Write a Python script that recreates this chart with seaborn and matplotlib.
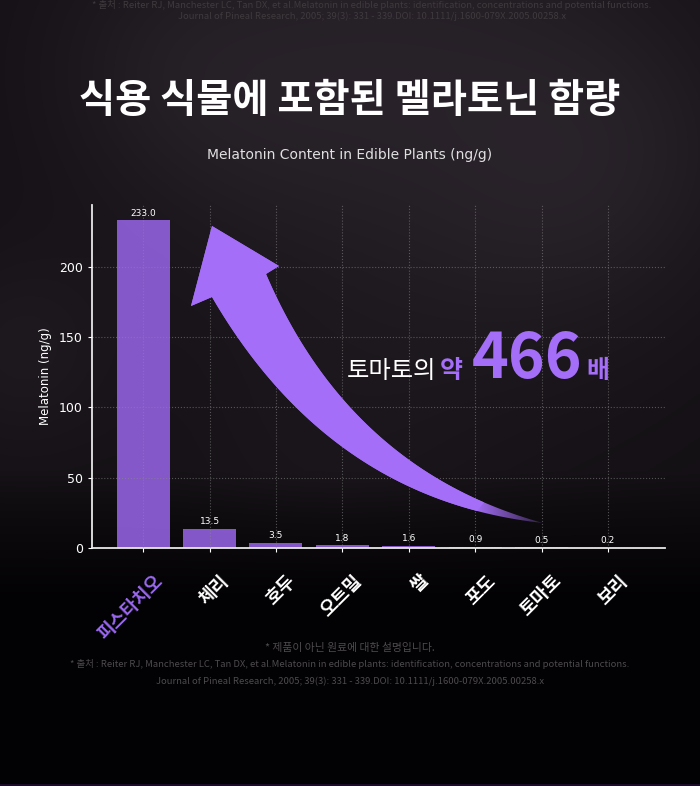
import numpy as np
import pandas as pd
import matplotlib
matplotlib.use("Agg")
import matplotlib.pyplot as plt
import matplotlib.transforms as mtransforms
import matplotlib.colors as mcolors
import seaborn as sns
from matplotlib.patches import Polygon

# data
plants = ["피스타치오", "체리", "호두", "오트밀", "쌀", "포도", "토마토", "보리"]
melatonin = [233.0, 13.5, 3.5, 1.8, 1.6, 0.9, 0.5, 0.2]
y_ticks = [0, 50, 100, 150, 200]

title = "식용 식물에 포함된 멜라토닌 함량"
subtitle = "Melatonin Content in Edible Plants (ng/g)"
note = "* 제품이 아닌 원료에 대한 설명입니다."
source_1 = ("* 출처 : Reiter RJ, Manchester LC, Tan DX, et al.Melatonin in edible plants: "
            "identification, concentrations and potential functions.")
source_2 = "Journal of Pineal Research, 2005; 39(3): 331 - 339.DOI: 10.1111/j.1600-079X.2005.00258.x"

W, H = 700, 786
BAR = "#8f5fda"
ARROW = "#a46ef8"
KR = ["Noto Sans CJK KR", "DejaVu Sans"]

sns.set_theme(style="dark")
plt.rcParams["font.family"] = ["DejaVu Sans", "Noto Sans CJK KR"]


def fx(x):
    return x / W


def fy(y):
    return 1 - y / H


def to_fig(pts):
    pts = np.asarray(pts, dtype=float)
    return np.column_stack([pts[:, 0] / W, 1 - pts[:, 1] / H])


def make_background():
    yy, xx = np.mgrid[0:H, 0:W].astype(float)
    fade = np.clip((600 - yy) / 130, 0, 1)
    lum = 17 * fade
    # soft cloud patches
    blobs = [(420, 40, 160, 14), (620, 150, 110, 10), (250, 120, 120, 8),
             (20, 350, 70, 9), (520, 260, 120, 6), (330, 430, 110, 5),
             (150, 60, 90, 6)]
    for cx, cy, r, s in blobs:
        lum += s * np.exp(-((xx - cx) ** 2 + (yy - cy) ** 2) / (2 * r ** 2)) * fade
    img = np.zeros((H, W, 3))
    img[..., 0] = lum * 1.05 + 2
    img[..., 1] = lum * 0.9 + 1
    img[..., 2] = lum * 1.05 + 3
    img[H - 2:, :, :] = [26, 12, 40]
    return np.clip(img / 255, 0, 1)


def quad(p0, p1, p2, t):
    t = t[:, None]
    return (1 - t) ** 2 * np.array(p0) + 2 * (1 - t) * t * np.array(p1) + t ** 2 * np.array(p2)


fig = plt.figure(figsize=(7, 7.86), dpi=100, facecolor="black")
fig.figimage(make_background(), xo=0, yo=0, origin="upper", zorder=-5)

ax = fig.add_axes([fx(92), fy(548), fx(665) - fx(92), fy(205) - fy(548)])
ax.set_facecolor("none")

df = pd.DataFrame({"plant": plants, "value": melatonin})
sns.barplot(data=df, x="plant", y="value", color=BAR, saturation=1,
            width=0.8, alpha=0.92, edgecolor="none", linewidth=0, ax=ax, zorder=2)
ax.bar_label(ax.containers[0], fmt="%.1f", padding=2, color="white", fontsize=6.5)

ax.set_xlim(-0.77, 7.86)
ax.set_ylim(0, 244)
ax.set_yticks(y_ticks)
ax.grid(True, color="#8a8a8a", linestyle=":", linewidth=0.8, alpha=0.55)
ax.set_axisbelow(False)
for side in ["top", "right"]:
    ax.spines[side].set_visible(False)
for side in ["left", "bottom"]:
    ax.spines[side].set_visible(True)
    ax.spines[side].set_color("#e8e8e8")
    ax.spines[side].set_linewidth(1.3)
ax.tick_params(axis="both", colors="white", length=3, width=0.8, labelsize=9, bottom=True, left=True)
ax.set_xlabel("")
ax.set_ylabel("Melatonin (ng/g)", color="white", fontsize=8.5, labelpad=5)

ax.set_xticks(range(len(plants)))
ax.set_xticklabels(plants, rotation=45, ha="right", rotation_mode="anchor",
                   family=KR, fontsize=13, fontweight="bold")
shift = mtransforms.ScaledTranslation(10 / 100, -14 / 100, fig.dpi_scale_trans)
for i, lab in enumerate(ax.get_xticklabels()):
    lab.set_color("#9a68ee" if i == 0 else "white")
    lab.set_transform(lab.get_transform() + shift)

# curved arrow from tomato up to pistachio
t = np.linspace(0, 1, 60)
right_edge = quad((266, 274), (350, 470), (543, 523), t)
left_edge = quad((212, 297), (330, 500), (543, 523), t)
head = [(191, 306), (212, 226), (279, 266)]
outline = np.vstack([head, right_edge, left_edge[::-1]])

# solid body (antialiased) up to where the tail starts fading
t_body = np.linspace(0, 0.84, 50)
body = np.vstack([head, quad((266, 274), (350, 470), (543, 523), t_body),
                  quad((212, 297), (330, 500), (543, 523), t_body)[::-1]])
fig.patches.append(Polygon(to_fig(body), closed=True, transform=fig.transFigure,
                           facecolor=ARROW, edgecolor="none", zorder=3))

# fading tail: colour image clipped to the arrow outline
xx = np.arange(W, dtype=float)[None, :].repeat(H, axis=0)
tail_rgba = np.zeros((H, W, 4))
tail_rgba[..., :3] = mcolors.to_rgb(ARROW)
tail_rgba[..., 3] = np.clip((560 - xx) / 85, 0.12, 1.0)
clip_poly = Polygon(to_fig(outline), closed=True, transform=fig.transFigure)
tail_img = fig.figimage(tail_rgba, xo=0, yo=0, origin="upper", zorder=2.9)
tail_img.set_clip_path(clip_poly)

fig.text(0.5, fy(100), title, ha="center", va="center", color="white",
         family=KR, fontsize=28.3, fontweight="heavy")
fig.text(0.5, fy(155), subtitle, ha="center", va="center", color="#e0e0e0", fontsize=10)

base = fy(378)
fig.text(fx(347), base, "토마토의", ha="left", va="baseline", color="white",
         family=KR, fontsize=17.5)
fig.text(fx(440), base, "약", ha="left", va="baseline", color=ARROW,
         family=KR, fontsize=18, fontweight="bold")
fig.text(fx(472), base, "466", ha="left", va="baseline", color=ARROW,
         family=KR, fontsize=45, fontweight="heavy")
fig.text(fx(586), base, "배", ha="left", va="baseline", color=ARROW,
         family=KR, fontsize=18, fontweight="bold")

foot = "#4e4b4e"
fig.text(0.5, fy(648), note, ha="center", va="center", color=foot, family=KR, fontsize=7.8)
fig.text(0.5, fy(664), source_1, ha="center", va="center", color=foot, family=KR, fontsize=6.8)
fig.text(0.5, fy(681), source_2, ha="center", va="center", color=foot, family=KR, fontsize=6.8)
fig.text(fx(372), fy(5), source_1, ha="center", va="center", color="#3e3a3d", family=KR, fontsize=6.8)
fig.text(fx(372), fy(16), source_2, ha="center", va="center", color="#3e3a3d", family=KR, fontsize=6.8)

fig.savefig("out.png", dpi=100, facecolor="black")
